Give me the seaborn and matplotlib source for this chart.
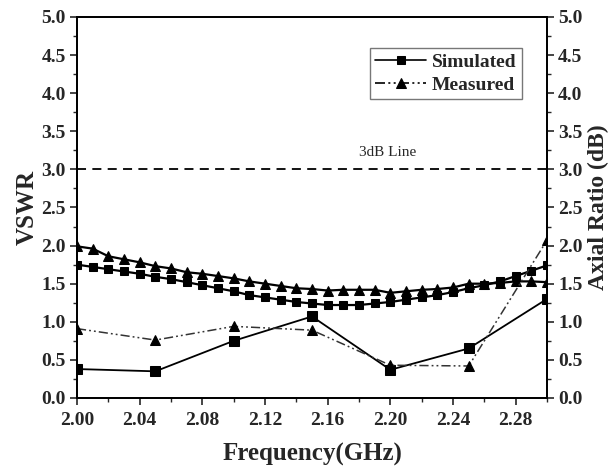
import numpy as np
import pandas as pd
import matplotlib.pyplot as plt
import seaborn as sns
from matplotlib.ticker import MultipleLocator

# VSWR curves, one point every 10 MHz
freq_dense = [2.00, 2.01, 2.02, 2.03, 2.04, 2.05, 2.06, 2.07, 2.08, 2.09, 2.10,
              2.11, 2.12, 2.13, 2.14, 2.15, 2.16, 2.17, 2.18, 2.19, 2.20,
              2.21, 2.22, 2.23, 2.24, 2.25, 2.26, 2.27, 2.28, 2.29, 2.30]
vswr_sim = [1.75, 1.72, 1.69, 1.66, 1.63, 1.59, 1.56, 1.52, 1.48, 1.44, 1.40,
            1.35, 1.32, 1.29, 1.26, 1.24, 1.22, 1.22, 1.22, 1.24, 1.26,
            1.29, 1.32, 1.35, 1.39, 1.44, 1.48, 1.53, 1.60, 1.67, 1.74]
vswr_meas = [1.99, 1.96, 1.86, 1.82, 1.78, 1.73, 1.70, 1.65, 1.63, 1.60, 1.57,
             1.53, 1.50, 1.47, 1.44, 1.43, 1.41, 1.42, 1.42, 1.42, 1.38,
             1.40, 1.42, 1.43, 1.45, 1.50, 1.50, 1.51, 1.53, 1.53, 1.52]

# axial ratio, one point every 50 MHz
freq_sparse = [2.00, 2.05, 2.10, 2.15, 2.20, 2.25, 2.30]
ar_sim = [0.38, 0.35, 0.75, 1.07, 0.37, 0.65, 1.30]
ar_meas = [0.91, 0.76, 0.94, 0.89, 0.43, 0.42, 2.07]

sns.set_style("ticks")
plt.rcParams['font.family'] = ['Liberation Serif', 'DejaVu Serif']
plt.rcParams['font.weight'] = 'bold'
plt.rcParams['xtick.direction'] = 'out'
plt.rcParams['ytick.direction'] = 'out'

dense = pd.DataFrame({'f': freq_dense, 'sim': vswr_sim, 'meas': vswr_meas})
sparse = pd.DataFrame({'f': freq_sparse, 'sim': ar_sim, 'meas': ar_meas})

dashdot2 = (0, (6, 2, 1.2, 2, 1.2, 2))

fig, ax = plt.subplots(figsize=(6.16, 4.71), dpi=100)
fig.subplots_adjust(left=0.125, right=0.888, bottom=0.155, top=0.964)
ax2 = ax.twinx()

sns.lineplot(data=dense, x='f', y='sim', ax=ax, color='black', lw=1.6,
             marker='s', markersize=6, markeredgecolor='black', label='Simulated')
sns.lineplot(data=dense, x='f', y='meas', ax=ax, color='black', lw=1.6,
             marker='^', markersize=6.5, markeredgecolor='black', label='Measured')
sns.lineplot(data=sparse, x='f', y='sim', ax=ax2, color='black', lw=1.3,
             marker='s', markersize=6.5, markeredgecolor='black', legend=False)
sns.lineplot(data=sparse, x='f', y='meas', ax=ax2, color='#333333', lw=1.1,
             marker='^', markersize=6.5, markeredgecolor='black', markerfacecolor='black',
             linestyle=dashdot2, legend=False)

ax.axhline(3.0, color='black', lw=1.3, ls=(0, (5, 3.5)))
ax.text(2.198, 3.22, '3dB Line', ha='center', va='center', fontsize=11,
        fontweight='normal')

for a in (ax, ax2):
    a.set_xlim(2.00, 2.30)
    a.set_ylim(0, 5)
    a.yaxis.set_major_locator(MultipleLocator(0.5))
    a.yaxis.set_minor_locator(MultipleLocator(0.25))
    a.tick_params(which='major', length=5, width=1.2, labelsize=14, pad=3)
    a.tick_params(which='minor', length=3, width=1.0)
    for s in a.spines.values():
        s.set_linewidth(1.3)
        s.set_color('black')
    a.yaxis.set_major_formatter(plt.FormatStrFormatter('%.1f'))

ax.xaxis.set_major_locator(MultipleLocator(0.04))
ax.xaxis.set_minor_locator(MultipleLocator(0.02))
ax.xaxis.set_major_formatter(plt.FormatStrFormatter('%.2f'))
ax.tick_params(axis='x', which='major', pad=5)

ax.set_xlabel('Frequency(GHz)', fontsize=18, fontweight='bold', labelpad=10)
ax.set_ylabel('VSWR', fontsize=18, fontweight='bold', labelpad=2)
ax2.set_ylabel('Axial Ratio (dB)', fontsize=17, fontweight='bold', labelpad=4)

leg = ax.legend(loc='upper right', bbox_to_anchor=(0.968, 0.945), frameon=True,
                fancybox=False, edgecolor='#555555', fontsize=14,
                handlelength=2.6, borderpad=0.3, labelspacing=0.25,
                handletextpad=0.3)
leg.get_frame().set_linewidth(1.0)
leg.get_lines()[1].set_linestyle(dashdot2)
leg.get_lines()[1].set_linewidth(1.2)
leg.get_lines()[0].set_linewidth(1.2)
for t in leg.get_texts():
    t.set_fontweight('bold')

fig.savefig('out.png', dpi=100)
